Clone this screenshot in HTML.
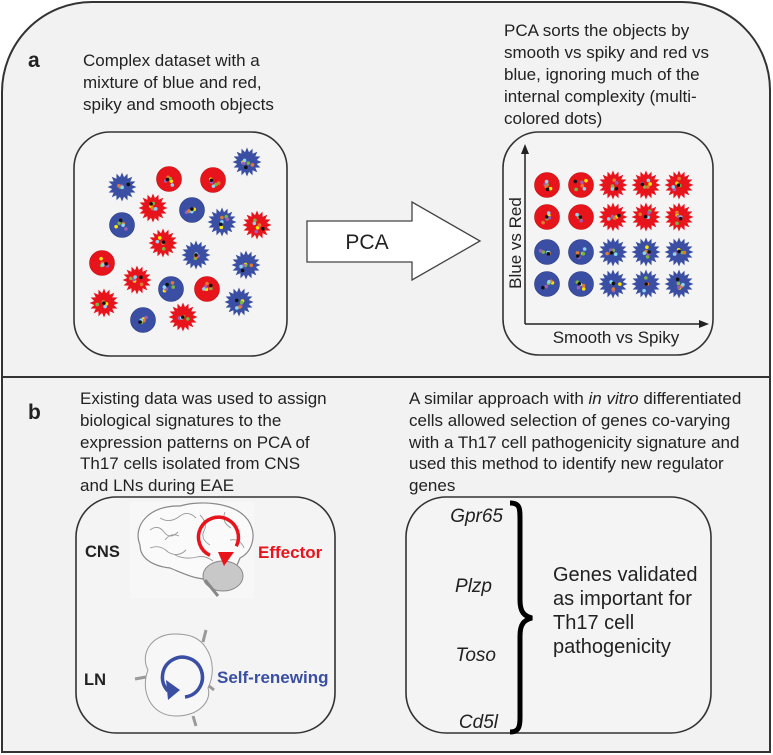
<!DOCTYPE html>
<html><head><meta charset="utf-8"><style>
html,body{margin:0;padding:0;background:#fff;}
svg{display:block;}
text{font-family:"Liberation Sans",Arial,sans-serif;fill:#222;}
</style></head><body>
<svg id="s" width="773" height="755" viewBox="0 0 773 755" xmlns="http://www.w3.org/2000/svg">
<path d="M2,92 A90,90 0 0 1 92,2 L680,2 A88,88 0 0 1 770,90 L770,752 L2,752 Z" fill="#f2f2f2" stroke="#333" stroke-width="2"/>
<line x1="2" y1="377" x2="770" y2="377" stroke="#333" stroke-width="2"/>

<text x="28" y="67" font-size="21" font-weight="bold">a</text>
<text font-size="17"><tspan x="83" y="66">Complex dataset with a</tspan><tspan x="83" y="88">mixture of blue and red,</tspan><tspan x="83" y="110">spiky and smooth objects</tspan></text>
<text font-size="17"><tspan x="504" y="36">PCA sorts the objects by</tspan><tspan x="504" y="58">smooth vs spiky and red vs</tspan><tspan x="504" y="80">blue, ignoring much of the</tspan><tspan x="504" y="102">internal complexity (multi-</tspan><tspan x="504" y="124">colored dots)</tspan></text>

<rect x="74" y="132" width="213" height="224" rx="36" fill="#f4f4f4" stroke="#333" stroke-width="1.6"/>
<rect x="503" y="132" width="210" height="223" rx="36" fill="#f4f4f4" stroke="#333" stroke-width="1.6"/>

<polygon points="307,221 412,221 412,202 480,241 412,280 412,262 307,262" fill="#fff" stroke="#444" stroke-width="1.3"/>
<text x="367" y="249" font-size="21" text-anchor="middle">PCA</text>

<line x1="525" y1="324" x2="525" y2="150" stroke="#222" stroke-width="1.5"/>
<polygon points="525,144 521,154 529,154" fill="#222"/>
<line x1="525" y1="324" x2="702" y2="324" stroke="#222" stroke-width="1.5"/>
<polygon points="709,324 699,320 699,328" fill="#222"/>
<text x="616" y="343" font-size="17" text-anchor="middle">Smooth vs Spiky</text>
<text x="515" y="249" font-size="17" text-anchor="middle" transform="rotate(-90 515 243)">Blue vs Red</text>

<g id="objs"></g>

<text x="28" y="419" font-size="21" font-weight="bold">b</text>
<text font-size="17"><tspan x="80" y="404">Existing data was used to assign</tspan><tspan x="80" y="426">biological signatures to the</tspan><tspan x="80" y="448">expression patterns on PCA of</tspan><tspan x="80" y="469">Th17 cells isolated from CNS</tspan><tspan x="80" y="491">and LNs during EAE</tspan></text>
<text font-size="17"><tspan x="409" y="404">A similar approach with <tspan font-style="italic">in vitro</tspan> differentiated</tspan><tspan x="409" y="426">cells allowed selection of genes co-varying</tspan><tspan x="409" y="448">with a Th17 cell pathogenicity signature and</tspan><tspan x="409" y="469">used this method to identify new regulator</tspan><tspan x="409" y="491">genes</tspan></text>

<rect x="76" y="497" width="259" height="236" rx="40" fill="#f4f4f4" stroke="#333" stroke-width="1.6"/>
<rect x="406" y="497" width="305" height="236" rx="40" fill="#f4f4f4" stroke="#333" stroke-width="1.6"/>

<!-- brain -->
<rect x="130" y="502" width="124" height="96" fill="#f7f7f7"/>
<path d="M140,545 C132,525 150,505 180,506 C200,500 235,502 248,520 C258,535 252,552 240,558 C236,570 225,582 215,578 C200,582 185,574 170,568 C152,566 140,558 140,545 Z" fill="#fafafa" stroke="#888" stroke-width="1.2"/>
<ellipse cx="223" cy="576" rx="20" ry="15" fill="#c8c8c8" stroke="#888"/>
<path d="M205,580 L218,596" stroke="#888" stroke-width="3" fill="none"/>
<g stroke="#999" stroke-width="0.9" fill="none">
<path d="M150,530 q8,-6 14,2 q6,8 14,0"/><path d="M160,518 q10,6 20,-2 q8,-6 16,2"/><path d="M150,548 q10,-4 18,4 q10,6 18,-2"/><path d="M175,555 q10,5 22,2 q8,-2 16,4"/><path d="M200,515 q8,8 4,16 q-4,8 6,14"/><path d="M225,512 q-4,10 6,16"/><path d="M165,540 q6,-8 14,-4"/><path d="M230,540 q10,-2 14,8"/>
</g>
<path d="M226,558 A20,20 0 1 0 200,548" fill="none" stroke="#e8141c" stroke-width="3.5" transform="rotate(-40 215 538)"/>
<polygon points="218,552 234,552 224,566" fill="#e8141c"/>
<text x="85" y="557" font-size="16.5" font-weight="bold">CNS</text>
<text x="258" y="558" font-size="17" font-weight="bold" style="fill:#e8141c">Effector</text>

<!-- LN -->
<path d="M175,634 C150,634 140,655 148,670 C140,690 150,716 176,716 C200,716 212,700 208,688 C214,676 214,660 206,648 C200,638 190,634 175,634 Z" fill="#f7f7f7" stroke="#999" stroke-width="1"/>
<path d="M203,642 L206,630" stroke="#999" stroke-width="3"/>
<path d="M146,677 L135,679" stroke="#999" stroke-width="3"/>
<path d="M209,686 L214,690" stroke="#999" stroke-width="3"/>
<path d="M193,716 L196,726" stroke="#999" stroke-width="3"/>
<path d="M168,691 A20,20 0 1 1 185,697" fill="none" stroke="#3a4fa3" stroke-width="3.5"/>
<polygon points="166,680 180,690 168,700" fill="#3a4fa3"/>
<text x="84" y="685" font-size="16.5" font-weight="bold">LN</text>
<text x="217" y="683" font-size="17" font-weight="bold" style="fill:#3a4fa3">Self-renewing</text>

<!-- genes -->
<g font-size="19" font-style="italic" text-anchor="end">
<text x="503" y="522">Gpr65</text><text x="492" y="592">Plzp</text><text x="496" y="661">Toso</text><text x="498" y="728">Cd5l</text>
</g>
<path d="M510,503 C520,503 520,508 520,520 L520,600 C520,612 524,616 532,618 C524,620 520,624 520,636 L520,718 C520,728 518,732 510,732" fill="none" stroke="#000" stroke-width="5"/>
<text font-size="20"><tspan x="553" y="581">Genes validated</tspan><tspan x="553" y="605">as important for</tspan><tspan x="553" y="629">Th17 cell</tspan><tspan x="553" y="653">pathogenicity</tspan></text>
</svg>
<script>
(function(){
var NS="http://www.w3.org/2000/svg",g=document.getElementById("objs");
var RED="#e8141c",BLUE="#3a4fa3";
var cols=["#ffe600","#7cb342","#9c5fb5","#e07a30","#8ad4f0","#111","#e07a30"];
var seed=7;function rnd(){seed=(seed*9301+49297)%233280;return seed/233280;}
function el(n,a){var e=document.createElementNS(NS,n);for(var k in a)e.setAttribute(k,a[k]);g.appendChild(e);return e;}
function obj(x,y,red,spiky){
  var c=red?RED:BLUE;
  if(spiky){var p=[];for(var i=0;i<32;i++){var r=i%2?10:14.5,a=i*Math.PI/16;p.push((x+r*Math.cos(a)).toFixed(1)+","+(y+r*Math.sin(a)).toFixed(1));}
    el("polygon",{points:p.join(" "),fill:c});}
  else el("circle",{cx:x,cy:y,r:12.5,fill:c,stroke:red?"#c01010":"#2a3a80","stroke-width":0.6});
  for(var j=0;j<6;j++){var a=rnd()*6.28,r=rnd()*7;el("circle",{cx:x+r*Math.cos(a),cy:y+r*Math.sin(a),r:1.8,fill:cols[j]});}
}
var L=[[247,162,0,1],[122,187,0,1],[169,179,1,0],[213,180,1,0],[153,208,1,1],[192,210,0,0],[222,222,0,1],[257,225,1,1],[122,225,0,0],[163,243,1,1],[196,255,0,1],[246,265,0,1],[102,263,1,0],[137,280,1,1],[171,289,0,0],[207,289,1,0],[104,303,1,1],[239,302,0,1],[143,320,0,0],[183,317,1,1]];
L.forEach(function(o){obj(o[0],o[1],o[2],o[3]);});
var cx=[547,581,613,646,679],ry=[185,217,252,284];
for(var r=0;r<4;r++)for(var c=0;c<5;c++)obj(cx[c],ry[r],r<2,c>=2);
})();
</script>
</body></html>
